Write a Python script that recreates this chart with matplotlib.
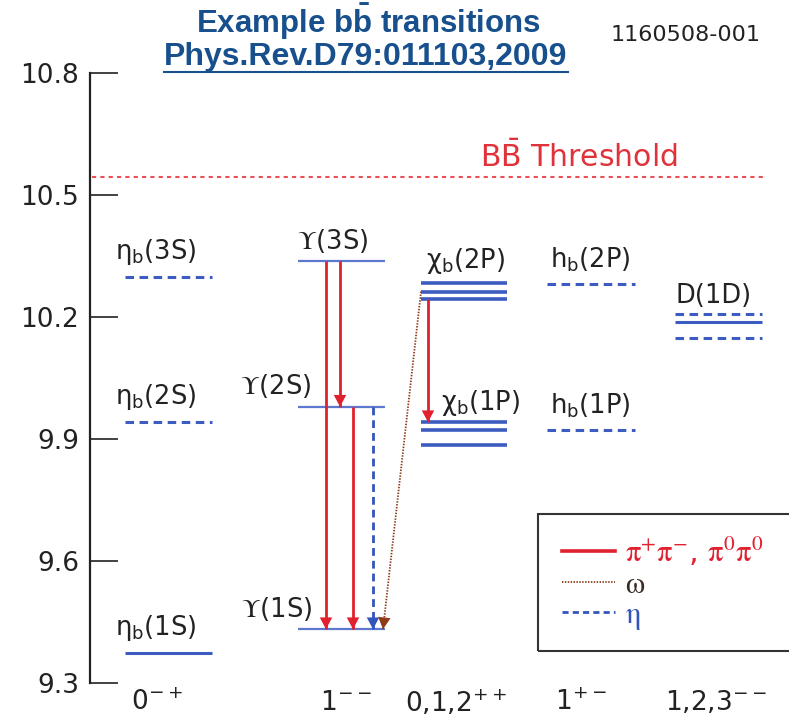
import matplotlib.pyplot as plt
from matplotlib.lines import Line2D
from matplotlib.patches import Rectangle

# --- masses of the levels (GeV) ---
eta_b_mass = [9.375, 9.943, 10.300]
eta_b_names = ['1S', '2S', '3S']
ups_mass = [9.433, 9.980, 10.338]
ups_names = ['1S', '2S', '3S']
chi_b1p_mass = [9.886, 9.923, 9.942]
chi_b2p_mass = [10.244, 10.263, 10.284]
h_b_mass = [9.923, 10.282]
h_b_names = ['1P', '2P']
d_1d_mass = [10.148, 10.188, 10.207]
bb_threshold = 10.546

jpc_labels = ['0$^{-+}$', '1$^{--}$', '0,1,2$^{++}$', '1$^{+-}$', '1,2,3$^{--}$']
y_ticks = [9.3, 9.6, 9.9, 10.2, 10.5, 10.8]

BLUE = '#3d5cc2'
LBLUE = '#5d79cf'
RED = '#e0212f'
BROWN = '#8e3b1c'
TITLE = '#17508c'
INK = '#222222'

plt.rcParams['mathtext.fontset'] = 'custom'
plt.rcParams['mathtext.rm'] = 'Liberation Sans:bold'
plt.rcParams['mathtext.bf'] = 'Liberation Sans:bold'

fig = plt.figure(figsize=(7.89, 7.19), dpi=100)
# x data = pixel column, y data = mass
ax = fig.add_axes([90 / 789, 0, 699 / 789, 1])
ax.set_xlim(90, 789)
ax.set_ylim(9.2123, 10.98)
for s in ['top', 'right', 'bottom']:
    ax.spines[s].set_visible(False)
ax.spines['left'].set_bounds(9.3, 10.8)
ax.spines['left'].set_linewidth(1.6)
ax.spines['left'].set_color(INK)
ax.set_xticks([])
ax.set_yticks(y_ticks)
ax.set_yticklabels([f'{t:.1f}' for t in y_ticks], fontsize=19, color=INK)
ax.tick_params(axis='y', direction='in', length=20, width=1.2, pad=8, color=INK)

DASH = (0, (2.8, 1.8))


def level(x0, x1, m, ls='-', lw=2.2, color=BLUE):
    ax.plot([x0, x1], [m, m], ls=ls, lw=lw, color=color, solid_capstyle='butt', dash_capstyle='butt')


def arrow(x0, m0, x1, m1, color, ls='-', lw=2.0):
    line, = ax.plot([x0, x1], [m0, m1], color=color, lw=lw, ls=ls, solid_capstyle='butt')
    ax.annotate('', xy=(x1, m1), xytext=(x0, m0),
                arrowprops=dict(arrowstyle='-|>,head_length=0.85,head_width=0.45', color=color,
                                lw=0, shrinkA=0, shrinkB=0, mutation_scale=10))
    return line


lab = dict(fontsize=18.5, color=INK, ha='center', va='baseline')

# eta_b column (0-+)
for m, n in zip(eta_b_mass, eta_b_names):
    level(125, 212, m, ls='-' if n == '1S' else DASH)
    ax.annotate(r'$\mathregular{\eta_b}$(' + n + ')', (156, m), xytext=(0, 12.5),
                textcoords='offset points', math_fontfamily='dejavusans', **lab)

# Upsilon column (1--)
ups_lab_x = [277, 276, 333]
for m, n, lx in zip(ups_mass, ups_names, ups_lab_x):
    level(298, 385, m, lw=1.6, color=LBLUE)
    ax.annotate(r'$\Upsilon$(' + n + ')', (lx, m), xytext=(0, 9),
                textcoords='offset points', math_fontfamily='stix', **lab)

# chi_b column (0,1,2++)
for m in chi_b1p_mass + chi_b2p_mass:
    level(421, 507, m, lw=2.6)
ax.annotate(r'$\mathregular{\chi_b}$(2P)', (466, chi_b2p_mass[-1]), xytext=(0, 11),
            textcoords='offset points', math_fontfamily='dejavusans', **lab)
ax.annotate(r'$\mathregular{\chi_b}$(1P)', (481, chi_b1p_mass[-1]), xytext=(0, 9),
            textcoords='offset points', math_fontfamily='dejavusans', **lab)

# h_b column (1+-)
for m, n in zip(h_b_mass, h_b_names):
    level(547, 635, m, ls=DASH)
    ax.annotate(r'h$_\mathregular{b}$(' + n + ')', (590, m), xytext=(0, 12),
                textcoords='offset points', math_fontfamily='dejavusans', **lab)

# D(1D) column (1,2,3--)
for m, ls in zip(d_1d_mass, [DASH, '-', DASH]):
    level(675, 762, m, ls=ls)
ax.annotate('D(1D)', (714, d_1d_mass[-1]), xytext=(0, 8),
            textcoords='offset points', **lab)

# B Bbar threshold
ax.plot([92, 765], [bb_threshold, bb_threshold], color='#ea4e56', lw=1.5, ls=(0, (2, 2)))
ax.annotate(r'B$\mathregular{\bar{B}}$ Threshold', (480, bb_threshold), xytext=(0, 7),
            textcoords='offset points', fontsize=21.5, color='#e0323a', va='baseline',
            math_fontfamily='dejavusans')

# transitions
arrow(326, ups_mass[2], 326, ups_mass[0], RED)
arrow(340, ups_mass[2], 340, ups_mass[1], RED)
arrow(353, ups_mass[1], 353, ups_mass[0], RED)
arrow(428, chi_b2p_mass[0], 428, chi_b1p_mass[-1], RED)
arrow(373, ups_mass[1], 373, ups_mass[0], '#3355bb', ls=DASH)
arrow(421, chi_b2p_mass[1], 383, ups_mass[0], BROWN, ls=(0, (0.8, 0.8)), lw=1.3)

# J^PC labels along the bottom
for x, t in zip([157, 346, 456, 581, 716], jpc_labels):
    ax.text(x, 9.252, t, fontsize=19, color=INK, ha='center', va='center',
            math_fontfamily='dejavusans')

# legend box (runs off the right edge)
ax.add_patch(Rectangle((538, 9.379), 300, 0.337, fill=False, ec='#333333', lw=1.5))
leg = ax.legend([Line2D([], [], color=RED, lw=2.6),
                 Line2D([], [], color=BROWN, lw=1.3, ls=(0, (0.8, 0.8))),
                 Line2D([], [], color='#3355bb', lw=2, ls=(0, (2.2, 1.5)))],
                [r'$\mathrm{\pi^{+}\pi^{-}}$, $\mathrm{\pi^{0}\pi^{0}}$', r'$\mathrm{\omega}$',
                 r'$\mathrm{\eta}$'],
                loc='upper left', bbox_to_anchor=(562, 9.665), bbox_transform=ax.transData,
                frameon=False, fontsize=22, handlelength=1.75, handletextpad=0.3,
                labelspacing=0.05, borderpad=0, borderaxespad=0)
for txt, c in zip(leg.get_texts(), [RED, '#3a2a20', '#3355bb']):
    txt.set_color(c)
    txt.set_math_fontfamily('stix')

# title and reference
fig.text(368 / 789, 1 - 22 / 719, r'Example b$\mathbf{\bar{b}}$ transitions', family='Liberation Sans',
         weight='bold', fontsize=22.5, color=TITLE, ha='center', va='center', math_fontfamily='custom')
ref = fig.text(366 / 789, 1 - 57 / 719, 'Phys.Rev.D79:011103,2009', family='Liberation Sans',
               weight='bold', fontsize=23, color=TITLE, ha='center', va='center')
fig.text(686 / 789, 1 - 35 / 719, '1160508-001', fontsize=16, color=INK, ha='center', va='center')

fig.canvas.draw()
bb = ref.get_window_extent()
fig.add_artist(Line2D([bb.x0, bb.x1], [719 - 72, 719 - 72], transform=None, color=TITLE, lw=1.5))

fig.savefig('out.png', dpi=100, facecolor='white')
